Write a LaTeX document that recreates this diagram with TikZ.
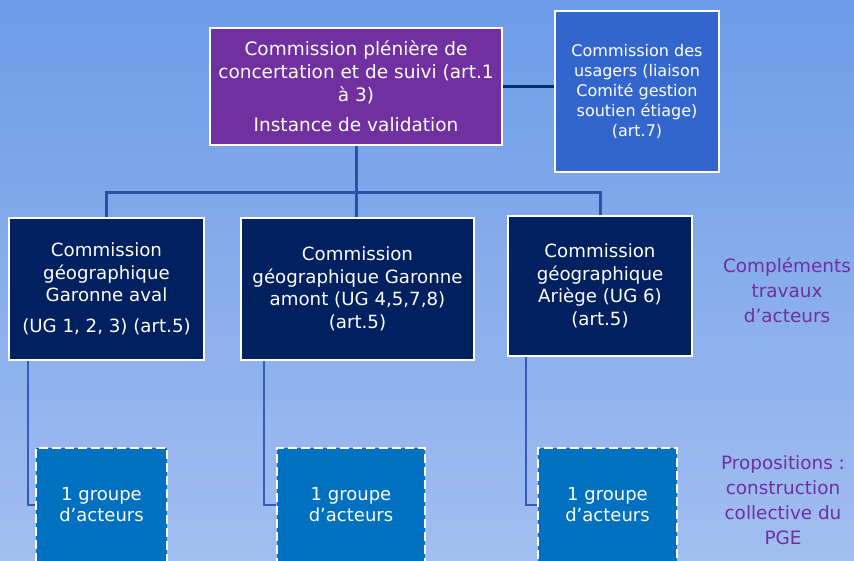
\documentclass[tikz,border=0pt]{standalone}
\usepackage{fontspec}
\setmainfont{DejaVu Sans}
\definecolor{fondhaut}{RGB}{108,156,232}
\definecolor{fondbas}{RGB}{162,190,240}
\definecolor{violetpge}{RGB}{112,48,160}
\definecolor{bleuusager}{RGB}{51,102,204}
\definecolor{marine}{RGB}{0,32,96}
\definecolor{bleugroupe}{RGB}{0,112,192}
\definecolor{traitarbre}{RGB}{45,80,165}
\definecolor{traitbranche}{RGB}{55,90,190}
\definecolor{traitliaison}{RGB}{0,48,110}
\begin{document}
\begin{tikzpicture}[x=1pt, y=-1pt,
  every node/.style = {align=center, inner sep=2pt},
  cadre/.style = {draw=white, line width=2pt, text=white},
  commission/.style = {cadre, fill=marine, font=\fontsize{18.2}{22.5}\selectfont},
  groupe/.style = {draw=white, line width=2.5pt, dash pattern=on 9pt off 4pt,
    fill=bleugroupe, text=white, font=\fontsize{18}{21}\selectfont},
  note/.style = {text=violetpge, font=\fontsize{18.4}{25}\selectfont},
  arbre/.style = {draw=traitarbre, line width=3pt},
  branche/.style = {draw=traitbranche, line width=2.5pt},
  liaison/.style = {draw=traitliaison, line width=3pt}
  ]
  \useasboundingbox (0,0) rectangle (854,561);
  \clip (0,0) rectangle (854,561);
  \fill[top color=fondhaut, bottom color=fondbas] (0,0) rectangle (854,561);

  % niveau haut
  \node[cadre, fill=violetpge, minimum width=292pt, minimum height=117pt,
    font=\fontsize{18.5}{23}\selectfont] (pleniere) at (356,86.5)
    {Commission plénière de\\concertation et de suivi (art.1\\à 3)\\[7pt]Instance de validation};
  \node[cadre, fill=bleuusager, minimum width=164pt, minimum height=161pt,
    font=\fontsize{16}{20}\selectfont] (usagers) at (637,91.5)
    {Commission des\\usagers (liaison\\Comité gestion\\soutien étiage)\\(art.7)};

  % commissions géographiques
  \node[commission, minimum width=195pt, minimum height=142pt] (aval) at (106.5,289)
    {Commission\\géographique\\Garonne aval\\[8pt](UG 1, 2, 3) (art.5)};
  \node[commission, minimum width=233pt, minimum height=142pt] (amont) at (357.5,289)
    {Commission\\géographique Garonne\\amont (UG 4,5,7,8)\\(art.5)};
  \node[commission, minimum width=184pt, minimum height=140pt] (ariege) at (600,286)
    {Commission\\géographique\\Ariège (UG 6)\\(art.5)};

  % groupes d'acteurs
  \node[groupe, minimum width=131pt, minimum height=114pt] (grpaval) at (101.5,505)
    {1 groupe\\d’acteurs};
  \node[groupe, minimum width=148pt, minimum height=114pt] (grpamont) at (351,505)
    {1 groupe\\d’acteurs};
  \node[groupe, minimum width=139pt, minimum height=114pt] (grpariege) at (607.5,505)
    {1 groupe\\d’acteurs};

  \node[note] (complements) at (787,290) {Compléments\\travaux\\d’acteurs};
  \node[note] (propositions) at (783,500) {Propositions :\\construction\\collective du\\PGE};

  % liaisons
  \coordinate (bus) at (356,193);
  \draw[liaison] (pleniere.east) -- (pleniere.east -| usagers.west);
  \draw[arbre] (pleniere.south) -- (pleniere.south |- amont.north);
  \draw[arbre] (aval.north) |- (bus) -| (ariege.north);
  \draw[branche] ([xshift=20pt]aval.south west) |- (grpaval.west);
  \draw[branche] ([xshift=24pt]amont.south west) |- (grpamont.west);
  \draw[branche] ([xshift=19pt]ariege.south west) |- (grpariege.west);
\end{tikzpicture}
\end{document}
